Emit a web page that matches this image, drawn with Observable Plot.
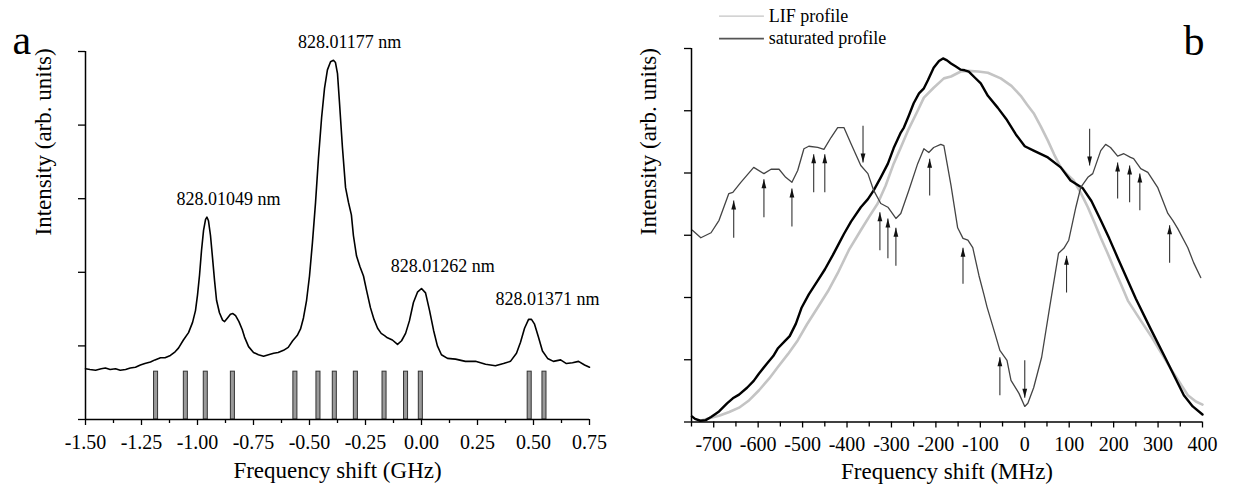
<!DOCTYPE html>
<html><head><meta charset="utf-8">
<script src="https://cdn.jsdelivr.net/npm/d3@7"></script>
<script src="https://cdn.jsdelivr.net/npm/@observablehq/plot@0.6"></script>
<style>
html,body{margin:0;padding:0;background:#fff;}
#wrap{display:flex;width:1236px;height:491px;overflow:hidden;}
#wrap svg{display:block;overflow:visible;}
</style></head><body><div id="wrap"></div>
<script>
const FONT = "Liberation Serif, Times New Roman, serif";

// ---------- Panel a data ----------
const aFreq = [-1.500,-1.480,-1.455,-1.430,-1.411,-1.390,-1.366,-1.345,-1.321,-1.300,-1.277,-1.255,-1.235,-1.210,-1.190,-1.165,-1.145,-1.121,-1.100,-1.085,-1.063,-1.040,-1.022,-1.009,-1.000,-0.991,-0.982,-0.973,-0.964,-0.958,-0.951,-0.942,-0.933,-0.924,-0.915,-0.902,-0.888,-0.879,-0.866,-0.853,-0.842,-0.830,-0.815,-0.800,-0.790,-0.772,-0.750,-0.728,-0.705,-0.683,-0.660,-0.640,-0.616,-0.595,-0.575,-0.555,-0.540,-0.527,-0.513,-0.500,-0.487,-0.473,-0.460,-0.446,-0.433,-0.420,-0.406,-0.393,-0.384,-0.375,-0.366,-0.353,-0.339,-0.326,-0.313,-0.304,-0.290,-0.275,-0.259,-0.245,-0.228,-0.212,-0.196,-0.180,-0.165,-0.152,-0.130,-0.107,-0.089,-0.071,-0.054,-0.036,-0.018,0.000,0.018,0.036,0.054,0.071,0.089,0.116,0.152,0.196,0.241,0.286,0.330,0.366,0.397,0.424,0.442,0.460,0.478,0.491,0.504,0.522,0.540,0.563,0.589,0.621,0.647,0.674,0.701,0.728,0.750];
const aInt = [0.69,0.68,0.67,0.69,0.70,0.68,0.69,0.67,0.68,0.70,0.71,0.74,0.76,0.78,0.81,0.84,0.84,0.87,0.92,0.97,1.08,1.18,1.32,1.48,1.69,1.96,2.30,2.57,2.72,2.75,2.70,2.50,2.20,1.89,1.62,1.45,1.35,1.33,1.38,1.43,1.44,1.41,1.33,1.22,1.12,0.99,0.91,0.88,0.86,0.88,0.90,0.91,0.94,0.98,1.07,1.14,1.23,1.38,1.62,1.95,2.40,2.95,3.55,4.10,4.50,4.75,4.86,4.88,4.85,4.70,4.30,3.70,3.15,2.95,2.78,2.50,2.22,2.08,1.95,1.75,1.52,1.36,1.24,1.17,1.14,1.11,1.08,1.02,1.07,1.17,1.34,1.59,1.73,1.78,1.72,1.48,1.21,1.00,0.88,0.83,0.82,0.79,0.79,0.75,0.73,0.76,0.79,0.90,1.05,1.24,1.36,1.36,1.30,1.12,0.93,0.83,0.79,0.81,0.76,0.77,0.79,0.74,0.71];
const aSticks = [-1.185,-1.052,-0.963,-0.842,-0.563,-0.460,-0.387,-0.293,-0.165,-0.069,-0.003,0.483,0.549];
const aStickHeight = 0.65;
const aLabelText = ["828.01177 nm","828.01049 nm","828.01262 nm","828.01371 nm"];
const aLabelX = [-0.321,-0.862,0.095,0.562];
const aLabelY = [5.13,2.99,2.08,1.63];
const aXTicks = [-1.5,-1.25,-1.0,-0.75,-0.5,-0.25,0,0.25,0.5,0.75];
const aXMinor = [-1.375,-1.125,-0.875,-0.625,-0.375,-0.125,0.125,0.375,0.625];
const aYTicks = [0,1,2,3,4,5];

// ---------- Panel b data ----------
const bSatF = [-749,-742,-730,-718,-706,-688,-670,-657,-643,-625,-610,-598,-580,-566,-556,-540,-529,-515,-502,-486,-466,-450,-432,-421,-407,-391,-369,-353,-340,-324,-308,-295,-279,-272,-261,-250,-238,-227,-218,-205,-193,-184,-175,-166,-155,-144,-135,-126,-112,-99,-83,-61,-40,-20,0,20,52,81,103,130,150,171,190,209,230,250,283,317,358,378,400];
const bSat = [0.09,0.05,0.02,0.03,0.08,0.17,0.30,0.38,0.44,0.55,0.66,0.78,0.94,1.06,1.18,1.30,1.38,1.58,1.84,2.05,2.27,2.45,2.68,2.83,3.02,3.22,3.45,3.58,3.72,3.93,4.15,4.40,4.65,4.73,4.92,5.12,5.28,5.36,5.49,5.69,5.80,5.84,5.81,5.76,5.71,5.66,5.65,5.63,5.53,5.44,5.24,5.05,4.85,4.62,4.43,4.36,4.25,4.09,3.88,3.76,3.55,3.24,2.95,2.64,2.30,1.98,1.50,1.02,0.43,0.25,0.12];
const bLifF = [-731,-720,-706,-688,-665,-643,-620,-598,-575,-556,-533,-511,-490,-466,-443,-421,-396,-369,-350,-331,-313,-295,-279,-263,-241,-227,-205,-182,-166,-144,-128,-105,-83,-54,-30,-9,5,20,36,52,66,81,95,110,126,142,157,171,186,200,216,232,260,286,308,331,350,367,385,400];
const bLif = [0.02,0.04,0.07,0.10,0.16,0.23,0.35,0.51,0.70,0.88,1.09,1.31,1.57,1.84,2.10,2.39,2.76,3.08,3.30,3.51,3.80,4.15,4.41,4.68,5.00,5.21,5.37,5.52,5.55,5.63,5.64,5.63,5.61,5.52,5.40,5.24,5.10,4.96,4.75,4.52,4.30,4.09,3.98,3.88,3.68,3.45,3.20,2.96,2.72,2.48,2.22,1.95,1.64,1.36,1.10,0.83,0.62,0.43,0.33,0.28];
const bDifF = [-748,-729,-706,-688,-666,-657,-639,-610,-587,-571,-553,-538,-524,-511,-497,-486,-466,-452,-436,-421,-407,-391,-369,-353,-340,-324,-308,-290,-279,-261,-241,-227,-216,-205,-189,-182,-166,-151,-139,-128,-117,-103,-92,-85,-67,-56,-40,-31,-13,0,7,20,38,56,76,88,99,115,126,142,153,171,182,193,209,223,238,245,261,277,299,322,333,344,367,380,396];
const bDif = [3.08,2.96,3.04,3.24,3.67,3.69,3.85,4.09,3.99,4.06,4.06,3.93,3.85,4.04,4.39,4.43,4.41,4.38,4.57,4.73,4.73,4.47,4.12,3.99,3.72,3.51,3.45,3.27,3.35,3.72,4.15,4.39,4.33,4.41,4.46,4.44,3.80,3.12,2.95,2.92,2.80,2.35,2.05,1.85,1.42,1.15,0.99,0.67,0.46,0.25,0.30,0.55,1.04,1.84,2.71,2.79,2.92,3.45,3.77,3.93,3.99,4.36,4.46,4.41,4.27,4.31,4.25,4.23,4.07,4.01,3.77,3.35,3.24,3.11,2.80,2.56,2.32];
// arrows: position (MHz), tail and head intensity
const arrX    = [-655,-587,-524,-475,-450,-364,-326,-308,-290,-214,-139,-56,0,94,146,209,236,259,326];
const arrTail = [2.96,3.29,3.14,3.69,3.69,4.76,2.76,2.63,2.51,3.64,2.22,0.43,0.99,2.08,4.71,3.59,3.53,3.40,2.56];
const arrHead = [3.56,3.90,3.75,4.30,4.30,4.17,3.37,3.27,3.12,4.23,2.80,1.04,0.39,2.67,4.12,4.17,4.12,3.99,3.16];
const bXTicks = [-700,-600,-500,-400,-300,-200,-100,0,100,200,300,400];
const bXMinor = [-750,-650,-550,-450,-350,-250,-150,-50,50,150,250,350];
const bYTicks = [0,1,2,3,4,5,6];
const legendNames = ["LIF profile","saturated profile"];
const legendColors = ["#c4c4c4","#555555"];
const legendWidths = [1.2,1.8];
const legendY = [6.52,6.16];
const legendX1 = -688, legendX2 = -587, legendTextX = -576;

// ---------- build ----------
const aCurve = aFreq.map((f,i)=>({f, v:aInt[i]}));
const aLabels = aLabelText.map((t,i)=>({t, x:aLabelX[i], y:aLabelY[i]}));
const sat = bSatF.map((f,i)=>({f, v:bSat[i]}));
const lif = bLifF.map((f,i)=>({f, v:bLif[i]}));
const dif = bDifF.map((f,i)=>({f, v:bDif[i]}));
const arrows = arrX.map((x,i)=>({x, y1:arrTail[i], y2:arrHead[i]}));
const legend = legendNames.map((n,i)=>({n, c:legendColors[i], w:legendWidths[i], y:legendY[i]}));

const upHead = {draw(ctx){ ctx.moveTo(0,0); ctx.lineTo(-2.4,9); ctx.lineTo(2.4,9); ctx.closePath(); }};
const downHead = {draw(ctx){ ctx.moveTo(0,0); ctx.lineTo(-2.4,-9); ctx.lineTo(2.4,-9); ctx.closePath(); }};

const plotA = Plot.plot({
  width: 618, height: 491,
  marginLeft: 85, marginRight: 29, marginTop: 51, marginBottom: 72,
  x: {domain: [-1.5, 0.75]},
  y: {domain: [0, 5]},
  style: {fontFamily: FONT, background: "white", color: "black", overflow: "visible"},
  marks: [
    Plot.rect(aSticks, {x1: d => d - 0.009, x2: d => d + 0.009, y1: 0, y2: aStickHeight, fill: "#9a9a9a", stroke: "#333", strokeWidth: 1}),
    Plot.line(aCurve, {x: "f", y: "v", stroke: "black", strokeWidth: 1.6, curve: "linear"}),
    Plot.text(aLabels, {x: "x", y: "y", text: "t", fontSize: 18, fontFamily: FONT, fill: "black"}),
    Plot.axisX(aXTicks, {tickSize: 6, tickPadding: 9, strokeWidth: 1.3, fontSize: 20, fontFamily: FONT, tickFormat: d => d.toFixed(2), label: null}),
    Plot.axisX(aXMinor, {tickSize: 4, strokeWidth: 1.3, tickFormat: () => "", label: null}),
    Plot.axisY(aYTicks, {tickSize: 7, strokeWidth: 1.3, tickFormat: () => "", label: null}),
    Plot.ruleY([0], {strokeWidth: 1.5}),
    Plot.ruleX([-1.5], {strokeWidth: 1.5}),
    Plot.text(["Frequency shift (GHz)"], {text: d => d, frameAnchor: "bottom", dy: 58, fontSize: 23, fontFamily: FONT}),
    Plot.text(["Intensity (arb. units)"], {text: d => d, frameAnchor: "left", dx: -42, rotate: -90, fontSize: 23, fontFamily: FONT}),
    Plot.text(["a"], {text: d => d, frameAnchor: "top-left", textAnchor: "start", dx: -73, dy: -27, fontSize: 42, fontFamily: FONT})
  ]
});

const plotB = Plot.plot({
  width: 618, height: 491,
  marginLeft: 73, marginRight: 34, marginTop: 48, marginBottom: 69.5,
  x: {domain: [-750, 400]},
  y: {domain: [0, 6]},
  style: {fontFamily: FONT, background: "white", color: "black", overflow: "visible"},
  marks: [
    Plot.line(lif, {x: "f", y: "v", stroke: "#c4c4c4", strokeWidth: 2.6}),
    Plot.line(sat, {x: "f", y: "v", stroke: "black", strokeWidth: 2.4}),
    Plot.line(dif, {x: "f", y: "v", stroke: "#444", strokeWidth: 1.3}),
    Plot.link(arrows, {x1: "x", x2: "x", y1: "y1", y2: "y2", stroke: "#333", strokeWidth: 1.1}),
    Plot.dot(arrows.filter(d => d.y2 > d.y1), {x: "x", y: "y2", symbol: upHead, fill: "#111", stroke: "none", r: 3}),
    Plot.dot(arrows.filter(d => d.y2 < d.y1), {x: "x", y: "y2", symbol: downHead, fill: "#111", stroke: "none", r: 3}),
    Plot.link(legend, {x1: legendX1, x2: legendX2, y1: "y", y2: "y", stroke: "c", strokeWidth: "w"}),
    Plot.text(legend, {x: legendTextX, y: "y", text: "n", textAnchor: "start", fontSize: 18, fontFamily: FONT}),
    Plot.axisX(bXTicks, {tickSize: 6, tickPadding: 9, strokeWidth: 1.3, fontSize: 20, fontFamily: FONT, tickFormat: d => String(d), label: null}),
    Plot.axisX(bXMinor, {tickSize: 5, strokeWidth: 1.3, tickFormat: () => "", label: null}),
    Plot.axisY(bYTicks, {tickSize: 7, strokeWidth: 1.3, tickFormat: () => "", label: null}),
    Plot.ruleY([0], {strokeWidth: 1.5}),
    Plot.ruleX([-750], {strokeWidth: 1.5}),
    Plot.text(["Frequency shift (MHz)"], {text: d => d, frameAnchor: "bottom", dy: 57, fontSize: 23, fontFamily: FONT}),
    Plot.text(["Intensity (arb. units)"], {text: d => d, frameAnchor: "left", dx: -43, rotate: -90, fontSize: 23, fontFamily: FONT}),
    Plot.text(["b"], {text: d => d, frameAnchor: "top-right", textAnchor: "start", dx: -19, dy: -23, fontSize: 42, fontFamily: FONT})
  ]
});

document.getElementById("wrap").append(plotA, plotB);
</script>
</body></html>
